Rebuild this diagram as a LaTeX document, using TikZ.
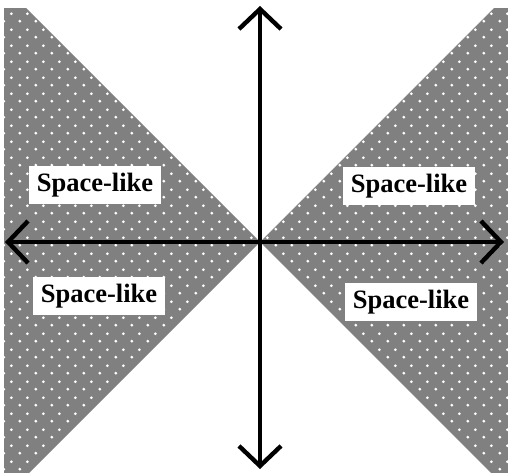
\documentclass[tikz,border=0pt]{standalone}
\usepackage{fontspec}
\setmainfont{Liberation Serif}
\usetikzlibrary{arrows.meta,patterns.meta}

\tikzdeclarepattern{
  name=spacedots,
  type=uncolored,
  bounding box={(0,0) and (8bp,8bp)},
  tile size={(8bp,8bp)},
  code={
    \fill (2bp,2bp) circle (0.8bp);
    \fill (6bp,6bp) circle (0.8bp);
  }
}

\begin{document}
\begin{tikzpicture}[
  x=0.5bp, y=-0.5bp,
  region/.style={fill=black!50,postaction={pattern=spacedots,pattern color=white}},
  lbl/.style={fill=white,inner xsep=4bp,inner ysep=3.5bp,font=\bfseries\fontsize{13.3}{16}\selectfont},
  axis/.style={line width=2.2bp,{Straight Barb[length=10bp,width=21bp]}-{Straight Barb[length=10bp,width=21bp]}}
]
  \useasboundingbox (0,0) rectangle (508,473);

  % space-like regions
  \begin{scope}
    \clip (4,9) rectangle (508,473);
    \path[region] (260,242) -- (-2,-20) -- (-2,504) -- cycle;
    \path[region] (260,242) -- (522,-20) -- (522,504) -- cycle;
  \end{scope}

  \coordinate (o) at (260,242);
  \coordinate (top) at (260,6);
  \coordinate (bot) at (260,469);
  \coordinate (left) at (5,242);
  \coordinate (right) at (504,242);

  \draw[axis] (bot) -- (top);
  \draw[axis] (left) -- (right);

  \node[lbl] (tl) at (95,185) {Space-like};
  \node[lbl] (tr) at (409,186) {Space-like};
  \node[lbl] (bl) at (99,296) {Space-like};
  \node[lbl] (br) at (411,302) {Space-like};
\end{tikzpicture}
\end{document}
